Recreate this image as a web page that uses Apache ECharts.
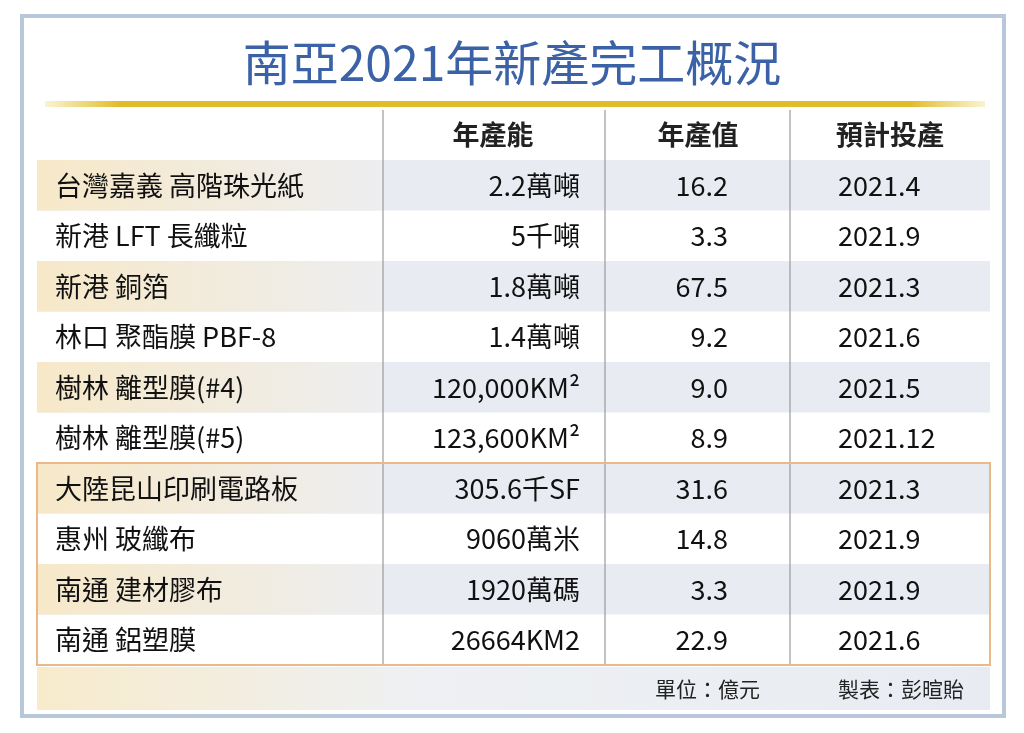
<!DOCTYPE html>
<html>
<head>
<meta charset="utf-8">
<script src="https://cdn.jsdelivr.net/npm/echarts@6/dist/echarts.min.js"></script>
<style>html,body{margin:0;padding:0;background:#fff}#main{width:1024px;height:733px}</style>
</head>
<body>
<div id="main"></div>
<script>
(function(){
  var myChart = echarts.init(document.getElementById('main'));
  var font = '"Noto Sans CJK TC", "Liberation Sans", sans-serif';

  // 表格資料
  var header = ['年產能', '年產值', '預計投產'];
  var rows = [
    ['台灣嘉義 高階珠光紙', '2.2萬噸', '16.2', '2021.4'],
    ['新港 LFT 長纖粒', '5千噸', '3.3', '2021.9'],
    ['新港 銅箔', '1.8萬噸', '67.5', '2021.3'],
    ['林口 聚酯膜 PBF-8', '1.4萬噸', '9.2', '2021.6'],
    ['樹林 離型膜(#4)', '120,000KM²', '9.0', '2021.5'],
    ['樹林 離型膜(#5)', '123,600KM²', '8.9', '2021.12'],
    ['大陸昆山印刷電路板', '305.6千SF', '31.6', '2021.3'],
    ['惠州 玻纖布', '9060萬米', '14.8', '2021.9'],
    ['南通 建材膠布', '1920萬碼', '3.3', '2021.9'],
    ['南通 鋁塑膜', '26664KM2', '22.9', '2021.6']
  ];

  var top0 = 160, rowH = 50.5, L = 37, R = 990;
  var g = [];
  // 外框
  g.push({type:'rect', shape:{x:22,y:16,width:982,height:700}, style:{fill:'#fff', stroke:'#b9c7db', lineWidth:4}});
  // 標題
  g.push({type:'text', x:512, y:63, style:{text:'南亞2021年新產完工概況', font:'48px ' + font, fill:'#3b62a6', align:'center', verticalAlign:'middle'}});
  // 金線
  g.push({type:'rect', shape:{x:45,y:101,width:940,height:6}, style:{fill:new echarts.graphic.LinearGradient(0,0,1,0,[{offset:0,color:'rgba(230,195,40,0.2)'},{offset:0.08,color:'#e0bb2a'},{offset:0.92,color:'#e0bb2a'},{offset:1,color:'rgba(230,195,40,0.2)'}])}});
  // 表頭
  var hx = [493, 698, 890];
  header.forEach(function(h, i){
    g.push({type:'text', x:hx[i], y:135, style:{text:h, font:'bold 27px ' + font, fill:'#222', align:'center', verticalAlign:'middle'}});
  });
  // 列
  rows.forEach(function(r, i){
    var y = top0 + i * rowH;
    if (i % 2 === 0) {
      g.push({type:'rect', shape:{x:L,y:y,width:R-L,height:rowH}, style:{fill:'#e8ecf2'}});
      g.push({type:'rect', shape:{x:L,y:y,width:346,height:rowH}, style:{fill:new echarts.graphic.LinearGradient(0,0,1,0,[{offset:0,color:'#f7e8c8'},{offset:1,color:'#edeef0'}])}});
    }
    var cy = y + rowH / 2;
    var st = '27px ' + font;
    g.push({type:'text', x:55, y:cy, style:{text:r[0], font:st, fill:'#111', verticalAlign:'middle'}});
    g.push({type:'text', x:580, y:cy, style:{text:r[1], font:st, fill:'#111', align:'right', verticalAlign:'middle'}});
    g.push({type:'text', x:728, y:cy, style:{text:r[2], font:st, fill:'#111', align:'right', verticalAlign:'middle'}});
    g.push({type:'text', x:838, y:cy, style:{text:r[3], font:st, fill:'#111', verticalAlign:'middle'}});
  });
  var bottom = top0 + rows.length * rowH;
  // 欄線
  [383, 605, 790].forEach(function(x){
    g.push({type:'line', shape:{x1:x,y1:110,x2:x,y2:bottom}, style:{stroke:'#9a9a9a', lineWidth:1.2}});
  });
  // 大陸區塊框
  g.push({type:'rect', shape:{x:L,y:top0+6*rowH,width:R-L,height:4*rowH}, style:{fill:'none', stroke:'#e9b98a', lineWidth:2}});
  // 頁尾
  g.push({type:'rect', shape:{x:L,y:bottom+2,width:R-L,height:708-bottom}, style:{fill:new echarts.graphic.LinearGradient(0,0,1,0,[{offset:0,color:'#f8ebcc'},{offset:0.4,color:'#eef0f3'},{offset:1,color:'#e8ecf2'}])}});
  g.push({type:'text', x:655, y:689, style:{text:'單位：億元', font:'21px ' + font, fill:'#222', verticalAlign:'middle'}});
  g.push({type:'text', x:838, y:689, style:{text:'製表：彭暄貽', font:'21px ' + font, fill:'#222', verticalAlign:'middle'}});

  var option = { animation:false, graphic: g };
  myChart.setOption(option);
})();
</script>
</body>
</html>
